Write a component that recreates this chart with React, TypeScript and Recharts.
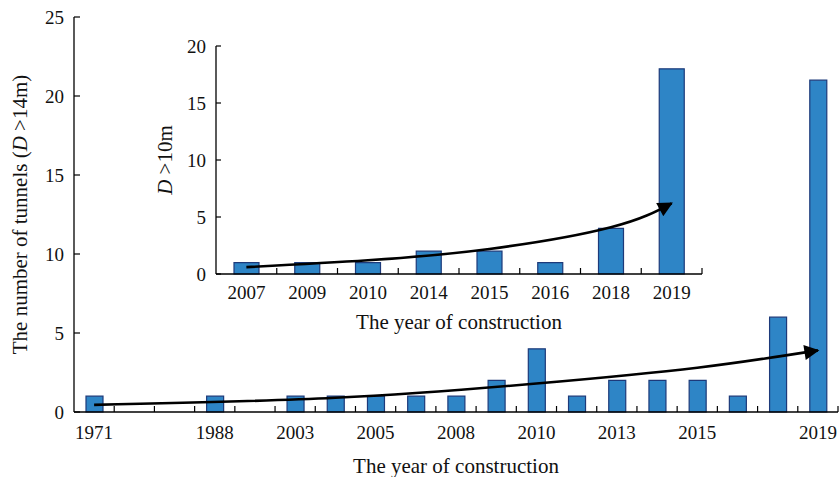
import { ComposedChart, Bar, Line, XAxis, YAxis, Label } from "recharts";

// tunnels with D > 14 m, one slot per year (null = empty slot)
const mainYears = ["1971", "1976", "1982", "1988", "1995", "2003", "2004", "2005", "2006", "2008", "2009", "2010", "2011", "2013", "2014", "2015", "2016", "2018", "2019"];
const mainCounts = [1, null, null, 1, null, 1, 1, 1, 1, 1, 2, 4, 1, 2, 2, 2, 1, 6, 21];
const mainTrend = [0.45, null, null, null, null, null, 0.9, null, null, null, null, 1.8, null, null, null, 2.8, null, null, 3.9];
const mainTickLabels = ["1971", "1988", "2003", "2005", "2008", "2010", "2013", "2015", "2019"];
const mainYTicks = [0, 5, 10, 15, 20, 25];

// tunnels with D > 10 m
const insetYears = ["2007", "2009", "2010", "2014", "2015", "2016", "2018", "2019"];
const insetCounts = [1, 1, 1, 2, 2, 1, 4, 18];
const insetTrend = [0.6, null, 1.2, null, 2.2, null, 4.1, 6.2];
const insetYTicks = [0, 5, 10, 15, 20];

const mainData = mainYears.map((year, i) => ({ year, count: mainCounts[i], trend: mainTrend[i] }));
const insetData = insetYears.map((year, i) => ({ year, count: insetCounts[i], trend: insetTrend[i] }));

const FONT = "'Liberation Serif', 'DejaVu Serif', serif";
const BAR_FILL = "#2e85c6";
const BAR_STROKE = "#1d3a7a";
const TICK_FONT = 19;
const TITLE_FONT = 21;

const MAIN_W = 839;
const MAIN_H = 477;
const MAIN_PLOT_W = 764;
const INSET_PLOT_W = 486;

function makeXTick(slot: number, shown: string[] | null, gap: number) {
  return function XTick(props: any) {
    const { x, y, payload } = props;
    const axisY = y - gap;
    const bx = x + slot / 2;
    const visible = shown ? shown.includes(payload.value) : true;
    return (
      <g>
        <line x1={bx} x2={bx} y1={axisY} y2={axisY - 6} stroke="#000" strokeWidth={1.2} />
        {visible && (
          <text x={x} y={y} textAnchor="middle" dominantBaseline="central" fontSize={TICK_FONT} fontFamily={FONT} fill="#111">
            {payload.value}
          </text>
        )}
      </g>
    );
  };
}

const MainXTick = makeXTick(MAIN_PLOT_W / mainYears.length, mainTickLabels, 20);
const InsetXTick = makeXTick(INSET_PLOT_W / insetYears.length, null, 18);

function ArrowDefs({ id }: { id: string }) {
  return (
    <defs>
      <marker id={id} viewBox="0 0 10 10" refX="9" refY="5" markerWidth="17" markerHeight="15" markerUnits="userSpaceOnUse" orient="auto">
        <path d="M0,0 L10,5 L0,10 z" fill="#000" />
      </marker>
    </defs>
  );
}

export default function App() {
  return (
    <div style={{ position: "absolute", left: 0, top: 0, width: MAIN_W, height: MAIN_H, background: "#fff", fontFamily: FONT }}>
      <ComposedChart width={MAIN_W} height={MAIN_H} data={mainData} margin={{ top: 17, right: 1, bottom: 0, left: 30 }}>
        <ArrowDefs id="arrowMain" />
        <XAxis
          dataKey="year"
          interval={0}
          height={65}
          tickSize={0}
          tickMargin={20}
          tickLine={false}
          tick={<MainXTick />}
          axisLine={{ stroke: "#000", strokeWidth: 1.3 }}
        >
          <Label
            content={(p: any) => (
              <text x={p.viewBox.x + p.viewBox.width / 2} y={p.viewBox.y + 54} textAnchor="middle" dominantBaseline="central" fontSize={TITLE_FONT} fontFamily={FONT} fill="#111">
                The year of construction
              </text>
            )}
          />
        </XAxis>
        <YAxis
          width={44}
          domain={[0, 25]}
          ticks={mainYTicks}
          interval={0}
          tickSize={-6}
          tickMargin={16}
          tick={{ fill: "#111", fontSize: TICK_FONT, fontFamily: FONT }}
          tickLine={{ stroke: "#000", strokeWidth: 1.2 }}
          axisLine={{ stroke: "#000", strokeWidth: 1.3 }}
        >
          <Label
            content={(p: any) => {
              const cx = 20;
              const cy = p.viewBox.y + p.viewBox.height / 2;
              return (
                <text x={cx} y={cy} transform={`rotate(-90 ${cx} ${cy})`} textAnchor="middle" dominantBaseline="central" fontSize={TITLE_FONT} fontFamily={FONT} fill="#111">
                  The number of tunnels (<tspan fontStyle="italic">D</tspan> &gt;14m)
                </text>
              );
            }}
          />
        </YAxis>
        <Bar dataKey="count" barSize={17} fill={BAR_FILL} stroke={BAR_STROKE} strokeWidth={1.2} isAnimationActive={false} />
        <Line
          dataKey="trend"
          type="natural"
          connectNulls
          stroke="#000"
          strokeWidth={2.6}
          dot={false}
          activeDot={false}
          markerEnd="url(#arrowMain)"
          isAnimationActive={false}
        />
      </ComposedChart>

      <div style={{ position: "absolute", left: 150, top: 36 }}>
        <ComposedChart width={556} height={300} data={insetData} margin={{ top: 10, right: 4, bottom: 0, left: 0 }}>
          <ArrowDefs id="arrowInset" />
          <XAxis
            dataKey="year"
            interval={0}
            height={62}
            tickSize={0}
            tickMargin={18}
            tickLine={false}
            tick={<InsetXTick />}
            axisLine={{ stroke: "#000", strokeWidth: 1.3 }}
          >
            <Label
              content={(p: any) => (
                <text x={p.viewBox.x + p.viewBox.width / 2} y={p.viewBox.y + 48} textAnchor="middle" dominantBaseline="central" fontSize={TITLE_FONT} fontFamily={FONT} fill="#111">
                  The year of construction
                </text>
              )}
            />
          </XAxis>
          <YAxis
            width={66}
            domain={[0, 20]}
            ticks={insetYTicks}
            interval={0}
            tickSize={-5}
            tickMargin={15}
            tick={{ fill: "#111", fontSize: TICK_FONT, fontFamily: FONT }}
            tickLine={{ stroke: "#000", strokeWidth: 1.2 }}
            axisLine={{ stroke: "#000", strokeWidth: 1.3 }}
          >
            <Label
              content={(p: any) => {
                const cx = 15;
                const cy = p.viewBox.y + p.viewBox.height / 2;
                return (
                  <text x={cx} y={cy} transform={`rotate(-90 ${cx} ${cy})`} textAnchor="middle" dominantBaseline="central" fontSize={TITLE_FONT} fontFamily={FONT} fill="#111">
                    <tspan fontStyle="italic">D</tspan> &gt;10m
                  </text>
                );
              }}
            />
          </YAxis>
          <Bar dataKey="count" barSize={25} fill={BAR_FILL} stroke={BAR_STROKE} strokeWidth={1.2} isAnimationActive={false} />
          <Line
            dataKey="trend"
            type="natural"
            connectNulls
            stroke="#000"
            strokeWidth={2.6}
            dot={false}
            activeDot={false}
            markerEnd="url(#arrowInset)"
            isAnimationActive={false}
          />
        </ComposedChart>
      </div>
    </div>
  );
}
